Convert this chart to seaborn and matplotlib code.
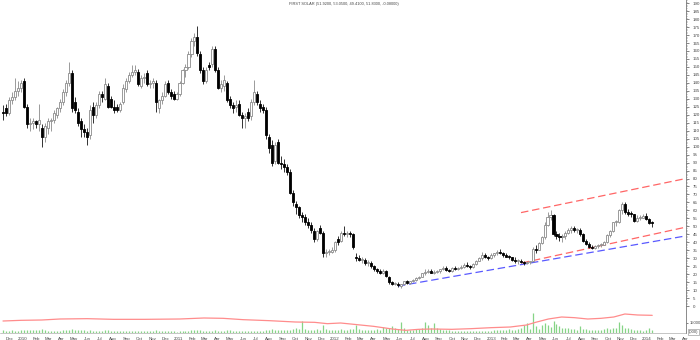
import numpy as np
import pandas as pd
import matplotlib
matplotlib.use("Agg")
import matplotlib.pyplot as plt
import matplotlib.dates as mdates
import matplotlib.ticker as mticker
import seaborn as sns

# ---------------- data ----------------
title = "FIRST SOLAR (51.9200, 53.0500, 49.4100, 51.8300, -0.08000)"
first_week = "2009-11-16"
n_weeks = 218

opens = [122,124,121,129,131,135,137,141,125,114,115,116,114,112,106,112,116,117,120,124,
         128,134,140,146,128,122,116,111,109,107,125,120,126,133,130,138,130,125,125,123,
         128,136,141,145,147,147,138,143,146,139,140,140,124,129,132,140,134,133,130,133,
         140,148,150,158,166,169,158,148,141,151,152,161,148,137,138,140,130,126,125,127,
         120,118,122,119,128,133,127,125,123,106,101,91,103,90,89,87,84,71,64,62,
         57,56,53,51,47,42,49,46,33,34,34,35,42,41,46,45,46,45,31,30,
         29,29,27,27,25,23,22,21,22,18,15,14,14,12.5,13.5,15.5,14.5,15.5,16.5,17.5,
         18.5,20.5,21.5,22,21,21.5,22,23,24,22.5,22,24,23,24,24.5,26,25,24.5,26.5,28.5,
         30,32,31,30,32,33,34,33,32,31,30.5,29,28,28.5,27.5,27,27.5,28,36,35,
         39.5,43,51,56,57,45,44,43,44,46,48,49,47.5,48,45,41,39,37,36.5,37.5,
         38,38.5,40,44.5,47,52.5,53,60.5,64,59,58,57.5,53.5,55.5,55.5,56.5,54.5,51.92]
highs = [126,127,131,134,143,141,142,143,127,118,118,117,127,114,115,118,118,123,125,130,
         136,142,153,148,131,124,118,114,112,126,128,128,135,135,143,140,132,129,127,128,
         139,143,147,151,151,149,145,146,148,142,143,142,130,134,141,142,136,135,134,141,
         149,152,160,168,171,176,160,150,150,153,163,163,150,142,145,141,132,128,129,129,
         122,121,124,130,142,135,129,127,125,108,104,103,105,94,92,89,86,73,66,63,
         59,58,55,53,49,48,51,47,36,36,37,41,44,47,50,47,47,46,33,32,
         31,30,29,28,26,24,23,23,22.5,19,16,15,15,14,16,16.5,16,17,18,19,
         21,23,23,23,22.5,22.5,23.5,25,25,23.5,24.5,25,24.5,25.5,27,27.5,26,27,29,31,
         34,33,31.5,33,33.5,35,35.5,34,33,32,31,30.5,29.5,29.5,28.5,28,28.5,37,38,40,
         44,53,59,60,57.5,47,46,45,47,49,50,50,49,49,46,42,40,38.5,38,39,
         39.5,40.5,45,48,53,54,61,65.5,65,61,59.5,58,57,57,57.5,58.5,55,53.05]
lows = [117,119,120,127,129,132,134,124,112,110,111,112,110,100,103,108,110,115,118,122,
        126,132,138,122,121,113,106,106,101,105,115,118,124,128,129,124,124,121,122,122,
        127,134,140,144,145,138,137,140,138,137,137,122,121,127,131,133,130,129,129,132,
        139,144,149,156,163,157,146,139,140,148,150,147,136,134,135,128,124,121,122,119,
        112,112,116,117,126,126,122,121,105,96,88,89,89,86,84,82,70,63,58,55,
        53,51,49,46,40,41,45,31,31,32,33,34,38,40,44,43,43,36,28,28,
        27,26,25,24,22,21,20,20,18,14,13,13,12,11.4,13,14,14,15,15.5,17,
        18,19.5,20.5,20.5,20,20.5,21,22.5,22,21.5,21.5,22.5,22.5,23,24,24.5,23.5,24,26,28,
        29,30,29,29.5,31,32,32.5,31,30.5,29.5,28,27,26.5,27,26,26.5,26.6,27.5,33.5,35,
        39,42,50,54,44,42,41,40,42,45,46,46.5,46,44,40,38,36.5,35.5,35.5,36.5,
        37,38,39.5,43,46.5,50.5,52,58,58,56.5,56,52.5,53,54,55,54,51.5,49.41]
closes = [121,121,129,131,135,137,140,125,114,115,116,114,117,106,113,116,117,121,124,128,
          134,140,146,124,123,115,111,109,106,123,120,126,133,131,139,125,125,123,123,127,
          137,141,145,147,148,139,143,144,139,140,141,128,129,132,139,134,132,130,133,140,
          148,150,158,166,169,159,148,141,148,150,161,148,137,139,142,129,126,124,126,120,
          118,119,118,128,134,128,124,123,107,99,90,101,90,89,87,84,71,65,62,57,
          56,53,51,48,42,47,46,33,34,34,35,40,40,46,45,46,45,37,30,29,
          29,27,27,25,23,22,21,22,19,15,14,14,13,13.5,15.5,14.5,15.5,16.5,17.5,18.5,
          20.5,21.5,22,21,21.5,22,23,24,22.5,22,24,23,24,24.5,26,25,24.5,26.5,28.5,30,
          32,31,30,32,33,34,33,32,31,30.5,29,28,28.5,27.5,27,27,27.5,36,35,39.5,
          43,51,56,57,45,44,43,44,46,48,49,47.5,48,45,41,39,37,36.5,37.5,38,
          38.5,40,44.5,47,52.5,53,60.5,64,59,58,57.5,53.5,55.5,55.5,56.5,54.5,52,51.83]

volume = [4000,2500,3000,4000,3500,3000,4500,
          5000,5000,5000,4500,4000,4000,
          6000,4500,3500,3500,3000,3000,3500,
          4000,4500,5000,6500,5000,4500,4000,4000,3500,
          4000,3500,3500,3000,3000,4000,4500,3500,
          3000,3000,2500,3000,3500,3000,3000,3000,3500,
          3000,2500,3500,3500,3000,4000,3500,3000,3000,2500,2500,2500,2000,
          3000,3000,3000,3500,4000,4500,5000,4000,3500,
          3500,3000,3500,4000,3500,3000,3000,4000,4500,3500,3000,3000,3000,
          2500,2500,3000,3500,3000,3000,3000,4500,5000,5500,4500,4500,
          4000,4500,4000,5000,6000,7000,5500,17500,6000,5000,5000,4500,6000,5000,
          12500,6000,4500,4000,5000,4500,5500,5000,4500,5500,6000,
          12000,6000,5000,4500,4500,4000,5000,6000,5000,9000,8000,7000,10000,7000,6500,
          17000,7000,5000,4500,5000,6000,6500,7000,16000,12000,8000,15500,7000,
          6000,5000,4500,4000,3500,3500,3000,3000,3500,3500,3000,2500,3000,3000,3500,3000,2500,3000,
          4000,4000,4500,5000,5000,6000,5000,4500,6000,7500,12500,14500,5500,
          30000,10000,6500,12500,15000,12000,9000,17500,13000,
          10000,8000,7500,7000,6000,5500,5000,10000,6000,6500,5000,4500,4000,4500,5000,
          6000,7500,6500,8000,7500,16500,12500,8000,7000,5500,
          5000,4500,4000,3500,4000,7500,5000]

vol_line_dates = ["2009-11-16","2009-12-28","2010-02-15","2010-03-29","2010-06-01","2010-08-01",
                  "2010-10-15","2011-01-03","2011-03-01","2011-04-15","2011-06-01","2011-08-01",
                  "2011-10-01","2011-11-15","2011-12-15","2012-01-15","2012-02-15","2012-04-01",
                  "2012-05-15","2012-06-15","2012-07-15","2012-08-15","2012-10-01","2012-11-15",
                  "2013-01-01","2013-02-15","2013-03-25","2013-04-15","2013-05-15","2013-06-15",
                  "2013-07-15","2013-08-15","2013-09-15","2013-10-15","2013-11-10","2013-12-10",
                  "2014-01-13"]
vol_line_vals = [18000,19000,19500,21000,21500,20500,20500,21000,22500,22000,20000,18500,
                 16500,16000,14000,15000,13000,10000,6000,4000,5500,6000,5500,6500,
                 8000,9000,12000,16000,21000,24000,23000,21000,22000,24000,28500,27000,26500]

blue_dates = ["2012-05-28", "2014-04-02"]
blue_vals = [12.5, 44.0]
red_up_dates = ["2013-03-12", "2014-04-02"]
red_up_vals = [58.6, 80.0]
red_lo_dates = ["2013-03-14", "2014-04-02"]
red_lo_vals = [27.0, 49.5]

price_ticks = list(range(0, 195, 5))
vol_ticks = [15000]
vol_tick_labels = ["15000"]

# ---------------- style ----------------
sns.set_theme(style="white")
plt.rcParams["font.family"] = ["Liberation Sans", "DejaVu Sans"]

fig = plt.figure(figsize=(7, 3.4), dpi=100)
W, H = 700, 340
ax = fig.add_axes([0, 34 / H, 686 / W, 306 / H])
axv = fig.add_axes([0, 7 / H, 686 / W, 27 / H], sharex=ax)

dates = pd.date_range(first_week, periods=n_weeks, freq="7D")
d = mdates.date2num(dates)
o = np.array(opens, float); h = np.array(highs, float)
l = np.array(lows, float); c = np.array(closes, float)
up = c >= o
lo_body = np.minimum(o, c)
hb = np.maximum(np.abs(c - o), 0.6)

# candles
ax.vlines(d[up], l[up], h[up], color="#8a8a8a", lw=0.6, zorder=2)
ax.vlines(d[~up], l[~up], h[~up], color="#111111", lw=0.6, zorder=2)
ax.bar(d[up], hb[up], bottom=lo_body[up], width=4.8, color="white",
       edgecolor="#8a8a8a", linewidth=0.6, zorder=3)
ax.bar(d[~up], hb[~up], bottom=lo_body[~up], width=4.8, color="black",
       edgecolor="black", linewidth=0.6, zorder=3)

# trend lines
dash = (0, (6, 3))
ax.plot(pd.to_datetime(red_up_dates), red_up_vals, color="#ff6666", lw=0.9, ls=dash, zorder=1)
ax.plot(pd.to_datetime(red_lo_dates), red_lo_vals, color="#ff6666", lw=0.9, ls=dash, zorder=1)
ax.plot(pd.to_datetime(blue_dates), blue_vals, color="#5a5aff", lw=0.9, ls=dash, zorder=1)

# volume panel
axv.vlines(d, 0, np.array(volume, float), color="#86d486", lw=0.9)
sns.lineplot(x=pd.to_datetime(vol_line_dates), y=vol_line_vals, ax=axv,
             color="#ff8c8c", lw=0.9)

x_left = mdates.date2num(pd.Timestamp("2009-11-09"))
x_right = mdates.date2num(pd.Timestamp("2014-04-02"))
ax.set_xlim(x_left, x_right)
ax.set_ylim(0, 192)
axv.set_ylim(0, 40500)

for a in (ax, axv):
    a.set_facecolor("white")
    for s in ("top", "left", "bottom"):
        a.spines[s].set_visible(False)
    a.spines["right"].set_color("#777777")
    a.spines["right"].set_linewidth(0.6)
    a.set_xlabel(""); a.set_ylabel("")
    a.grid(False)

ax.yaxis.tick_right()
ax.set_yticks(price_ticks)
ax.set_yticklabels([str(t) for t in price_ticks])
ax.yaxis.set_minor_locator(mticker.MultipleLocator(1))
ax.tick_params(axis="y", which="major", direction="out", length=2, width=0.5,
               pad=3, labelsize=3.2, colors="#555555", labelcolor="#444444")
ax.tick_params(axis="y", which="minor", direction="out", length=1, width=0.4, colors="#777777")
ax.tick_params(axis="x", which="both", bottom=False, labelbottom=False)

axv.yaxis.tick_right()
axv.set_yticks(vol_ticks)
axv.set_yticklabels(vol_tick_labels)
axv.tick_params(axis="y", which="major", direction="out", length=1.5, width=0.5,
                pad=1.5, labelsize=3.0, colors="#555555", labelcolor="#444444")
axv.spines["bottom"].set_visible(True)
axv.spines["bottom"].set_color("#999999")
axv.spines["bottom"].set_linewidth(0.4)

axv.xaxis.set_major_locator(mdates.MonthLocator())
axv.xaxis.set_minor_locator(mdates.WeekdayLocator(byweekday=mdates.MO))
axv.xaxis.set_major_formatter(
    mticker.FuncFormatter(lambda v, p: (mdates.num2date(v).strftime("%Y")
                                        if mdates.num2date(v).month == 1
                                        else mdates.num2date(v).strftime("%b"))))
axv.tick_params(axis="x", which="major", direction="out", length=2, width=0.5,
                pad=0.8, labelsize=3.2, colors="#666666", labelcolor="#444444")
axv.tick_params(axis="x", which="minor", direction="out", length=1, width=0.4, colors="#888888")
axv.set_xlim(x_left, x_right)

fig.text(689 / W, 1 - 332 / H, "(000)", fontsize=3, color="#444444", va="center", ha="left",
         bbox=dict(boxstyle="square,pad=0.15", fc="white", ec="#888888", lw=0.4))
fig.text(344 / W, 1 - 3.5 / H, title, ha="center", va="center", fontsize=2.8, color="#444444")

fig.savefig("out.png", dpi=100, facecolor="white")
